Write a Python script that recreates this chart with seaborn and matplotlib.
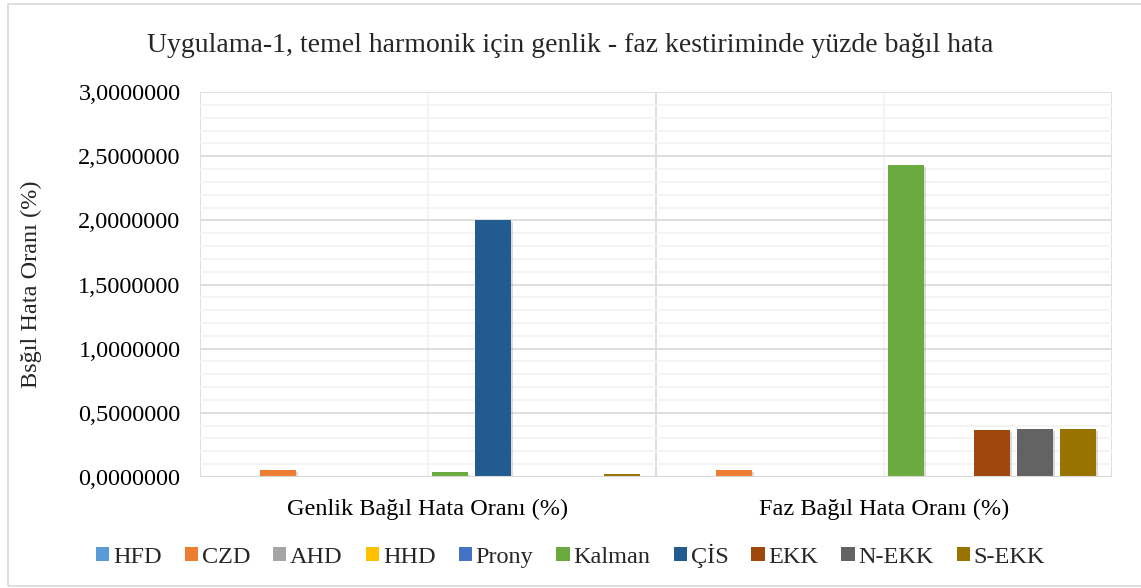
import matplotlib
matplotlib.use("Agg")
import matplotlib.pyplot as plt
import matplotlib.patheffects as pe
from matplotlib.patches import Rectangle, Patch
from matplotlib.ticker import MultipleLocator, FuncFormatter
import seaborn as sns
import pandas as pd

# veriler
categories = ["Genlik Bağıl Hata Oranı (%)", "Faz Bağıl Hata Oranı (%)"]
methods = ["HFD", "CZD", "AHD", "HHD", "Prony", "Kalman", "ÇİS", "EKK", "N-EKK", "S-EKK"]
genlik = [0.0, 0.052, 0.0, 0.0, 0.0, 0.035, 2.0, 0.0, 0.0, 0.02]
faz = [0.0, 0.052, 0.0, 0.0, 0.0, 2.43, 0.0, 0.365, 0.372, 0.372]
colors = ["#5B9BD5", "#ED7D31", "#A5A5A5", "#FFC000", "#4472C4",
          "#6AAA3E", "#225B8F", "#9E480E", "#636363", "#997300"]

rows = []
for m, g, f in zip(methods, genlik, faz):
    rows.append({"kategori": categories[0], "yontem": m, "deger": g})
    rows.append({"kategori": categories[1], "yontem": m, "deger": f})
df = pd.DataFrame(rows)

sns.set_theme(style="white")
plt.rcParams['font.family'] = ['Liberation Serif', 'DejaVu Serif']

fig = plt.figure(figsize=(11.41, 5.88), dpi=100)
ax = fig.add_axes([0.1753, 0.1888, 0.7993, 0.6547])

sns.barplot(data=df, x="kategori", y="deger", hue="yontem", order=categories,
            hue_order=methods, palette=colors, width=0.943, dodge=True,
            saturation=1, legend=False, ax=ax, zorder=3)

# cubuk genisligini daralt + hafif golge
shadow = [pe.SimplePatchShadow(offset=(1.5, -1.5), shadow_rgbFace="#999999", alpha=0.35), pe.Normal()]
for p in ax.patches:
    w = p.get_width()
    new_w = w * 36 / 43
    p.set_x(p.get_x() + (w - new_w) / 2)
    p.set_width(new_w)
    p.set_linewidth(0)
    if p.get_height() > 0.005:
        p.set_path_effects(shadow)

ax.set_xlim(-0.5, 1.5)
ax.set_ylim(0, 3.0)
ax.yaxis.set_major_locator(MultipleLocator(0.5))
ax.yaxis.set_minor_locator(MultipleLocator(0.1))
ax.yaxis.set_major_formatter(FuncFormatter(lambda v, _: f"{v:.7f}".replace(".", ",")))
ax.grid(which="major", axis="y", color="#D9D9D9", linewidth=1.2, zorder=0)
ax.grid(which="minor", axis="y", color="#F2F2F2", linewidth=1.2, zorder=0)
ax.set_axisbelow(True)
for xv, c in [(-0.5, "#D9D9D9"), (0.5, "#D9D9D9"), (1.5, "#D9D9D9"), (0, "#F2F2F2"), (1, "#F2F2F2")]:
    ax.axvline(xv, color=c, linewidth=1.2, zorder=0)

for s in ax.spines.values():
    s.set_visible(False)
ax.axhline(0, color="#D9D9D9", linewidth=1.5, zorder=4)
ax.tick_params(axis="both", which="both", length=0, labelsize=17.5, colors="black")
ax.tick_params(axis="x", pad=16)
ax.tick_params(axis="y", pad=14)
ax.set_xlabel("")
ax.set_ylabel("Bsğıl Hata Oranı (%)", fontsize=17.5)
ax.yaxis.set_label_coords(-0.173, 0.5)

fig.text(0.5, 0.922, "Uygulama-1, temel harmonik için genlik - faz kestiriminde yüzde bağıl hata",
         ha="center", va="center", fontsize=20)

handles = [Patch(facecolor=c, edgecolor="none", label=m) for m, c in zip(methods, colors)]
fig.legend(handles=handles, loc="center", bbox_to_anchor=(0.5, 0.055), ncol=10, frameon=False,
           fontsize=17.5, handlelength=0.55, handleheight=0.55, handletextpad=0.15, columnspacing=0.95)

fig.patches.append(Rectangle((0.007, 0.004), 1.2, 0.99, transform=fig.transFigure,
                             fill=False, edgecolor="#D9D9D9", linewidth=1.2))

plt.savefig("out.png", dpi=100)
